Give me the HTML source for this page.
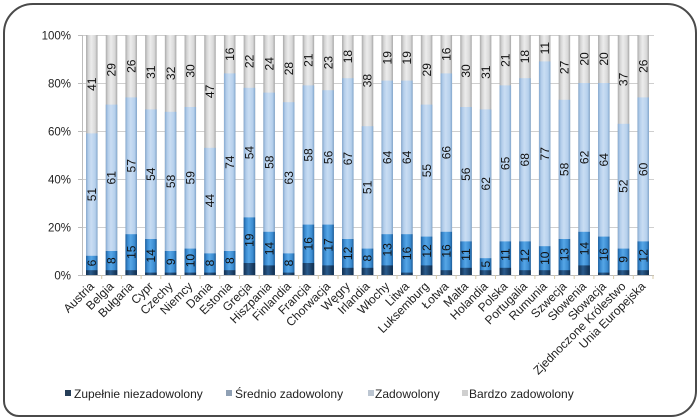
<!DOCTYPE html>
<html><head><meta charset="utf-8"><style>
html,body{margin:0;padding:0;background:#fff;}
body{width:700px;height:420px;position:relative;overflow:hidden;font-family:"Liberation Sans",Arial,sans-serif;}
.frame{position:absolute;left:3px;top:3px;width:690px;height:410px;border:2px solid #4a4a4a;border-radius:30px 30px 26px 16px;}
svg{position:absolute;left:0;top:0;}
</style></head><body>
<div class="frame"></div>
<svg width="700" height="420" viewBox="0 0 700 420" xmlns="http://www.w3.org/2000/svg" font-family="Liberation Sans, Arial, sans-serif">
<defs>
<linearGradient id="gG" x1="0" y1="0" x2="1" y2="0">
<stop offset="0" stop-color="#a9a9a9"/><stop offset="0.2" stop-color="#d4d4d4"/><stop offset="0.45" stop-color="#ececec"/><stop offset="0.8" stop-color="#d8d8d8"/><stop offset="1" stop-color="#a6a6a6"/></linearGradient>
<linearGradient id="gL" x1="0" y1="0" x2="1" y2="0">
<stop offset="0" stop-color="#86a9cf"/><stop offset="0.2" stop-color="#b3cdea"/><stop offset="0.45" stop-color="#c9ddf3"/><stop offset="0.8" stop-color="#b6d0ec"/><stop offset="1" stop-color="#82a6cc"/></linearGradient>
<linearGradient id="gM" x1="0" y1="0" x2="1" y2="0">
<stop offset="0" stop-color="#1c5f9e"/><stop offset="0.2" stop-color="#3a8ad0"/><stop offset="0.45" stop-color="#56a6e6"/><stop offset="0.8" stop-color="#3b8bd0"/><stop offset="1" stop-color="#1b5c99"/></linearGradient>
<linearGradient id="gD" x1="0" y1="0" x2="1" y2="0">
<stop offset="0" stop-color="#112f50"/><stop offset="0.4" stop-color="#2a5b8c"/><stop offset="1" stop-color="#102d4d"/></linearGradient>
</defs>
<!-- gridlines -->
<g stroke="#cfcfcf" stroke-width="1">
<line x1="82" y1="35.5" x2="654" y2="35.5"/>
<line x1="82" y1="83.5" x2="654" y2="83.5"/>
<line x1="82" y1="131.5" x2="654" y2="131.5"/>
<line x1="82" y1="179.5" x2="654" y2="179.5"/>
<line x1="82" y1="227.5" x2="654" y2="227.5"/>
</g>
<g stroke="#bdbdbd" stroke-width="1">
<line x1="82.5" y1="35" x2="82.5" y2="275"/>
<line x1="78" y1="35.5" x2="82" y2="35.5"/>
<line x1="78" y1="83.5" x2="82" y2="83.5"/>
<line x1="78" y1="131.5" x2="82" y2="131.5"/>
<line x1="78" y1="179.5" x2="82" y2="179.5"/>
<line x1="78" y1="227.5" x2="82" y2="227.5"/>
<line x1="78" y1="275.5" x2="82" y2="275.5"/>
<line x1="82" y1="275.5" x2="654" y2="275.5"/>
</g>
<g stroke="#d6c9a8" stroke-width="1">
<line x1="101.7" y1="275" x2="101.7" y2="279"/><line x1="121.4" y1="275" x2="121.4" y2="279"/><line x1="141.1" y1="275" x2="141.1" y2="279"/><line x1="160.8" y1="275" x2="160.8" y2="279"/><line x1="180.5" y1="275" x2="180.5" y2="279"/><line x1="200.1" y1="275" x2="200.1" y2="279"/><line x1="219.8" y1="275" x2="219.8" y2="279"/><line x1="239.5" y1="275" x2="239.5" y2="279"/><line x1="259.2" y1="275" x2="259.2" y2="279"/><line x1="278.9" y1="275" x2="278.9" y2="279"/><line x1="298.6" y1="275" x2="298.6" y2="279"/><line x1="318.3" y1="275" x2="318.3" y2="279"/><line x1="338" y1="275" x2="338" y2="279"/><line x1="357.7" y1="275" x2="357.7" y2="279"/><line x1="377.4" y1="275" x2="377.4" y2="279"/><line x1="397" y1="275" x2="397" y2="279"/><line x1="416.7" y1="275" x2="416.7" y2="279"/><line x1="436.4" y1="275" x2="436.4" y2="279"/><line x1="456.1" y1="275" x2="456.1" y2="279"/><line x1="475.8" y1="275" x2="475.8" y2="279"/><line x1="495.5" y1="275" x2="495.5" y2="279"/><line x1="515.2" y1="275" x2="515.2" y2="279"/><line x1="534.9" y1="275" x2="534.9" y2="279"/><line x1="554.6" y1="275" x2="554.6" y2="279"/><line x1="574.2" y1="275" x2="574.2" y2="279"/><line x1="593.9" y1="275" x2="593.9" y2="279"/><line x1="613.6" y1="275" x2="613.6" y2="279"/><line x1="633.3" y1="275" x2="633.3" y2="279"/><line x1="653" y1="275" x2="653" y2="279"/>
</g>
<!-- y labels -->
<g font-size="11.5" fill="#222" text-anchor="end">
<text x="71" y="39.5">100%</text>
<text x="71" y="87.5">80%</text>
<text x="71" y="135.5">60%</text>
<text x="71" y="183.5">40%</text>
<text x="71" y="231.5">20%</text>
<text x="71" y="279.5">0%</text>
</g>
<!-- bars -->
<g font-size="12" fill="#111" text-anchor="middle">
<g transform="translate(91.8,0)"><rect x="-5.75" y="35" width="11.5" height="240" fill="url(#gG)"/><rect x="-5.75" y="133.4" width="11.5" height="141.6" fill="url(#gL)"/><rect x="-5.75" y="255.8" width="11.5" height="19.2" fill="url(#gM)"/><rect x="-5.75" y="270.2" width="11.5" height="4.8" fill="url(#gD)"/><text transform="translate(0,263) rotate(-90)" dy="4.2">6</text><text transform="translate(0,194.6) rotate(-90)" dy="4.2">51</text><text transform="translate(0,84.2) rotate(-90)" dy="4.2">41</text></g>
<g transform="translate(111.5,0)"><rect x="-5.75" y="35" width="11.5" height="240" fill="url(#gG)"/><rect x="-5.75" y="104.6" width="11.5" height="170.4" fill="url(#gL)"/><rect x="-5.75" y="251" width="11.5" height="24" fill="url(#gM)"/><rect x="-5.75" y="270.2" width="11.5" height="4.8" fill="url(#gD)"/><text transform="translate(0,260.6) rotate(-90)" dy="4.2">8</text><text transform="translate(0,177.8) rotate(-90)" dy="4.2">61</text><text transform="translate(0,69.8) rotate(-90)" dy="4.2">29</text></g>
<g transform="translate(131.2,0)"><rect x="-5.75" y="35" width="11.5" height="240" fill="url(#gG)"/><rect x="-5.75" y="97.4" width="11.5" height="177.6" fill="url(#gL)"/><rect x="-5.75" y="234.2" width="11.5" height="40.8" fill="url(#gM)"/><rect x="-5.75" y="270.2" width="11.5" height="4.8" fill="url(#gD)"/><text transform="translate(0,252.2) rotate(-90)" dy="4.2">15</text><text transform="translate(0,165.8) rotate(-90)" dy="4.2">57</text><text transform="translate(0,66.2) rotate(-90)" dy="4.2">26</text></g>
<g transform="translate(150.9,0)"><rect x="-5.75" y="35" width="11.5" height="240" fill="url(#gG)"/><rect x="-5.75" y="109.4" width="11.5" height="165.6" fill="url(#gL)"/><rect x="-5.75" y="239" width="11.5" height="36" fill="url(#gM)"/><rect x="-5.75" y="272.6" width="11.5" height="2.4" fill="url(#gD)"/><text transform="translate(0,255.8) rotate(-90)" dy="4.2">14</text><text transform="translate(0,174.2) rotate(-90)" dy="4.2">54</text><text transform="translate(0,72.2) rotate(-90)" dy="4.2">31</text></g>
<g transform="translate(170.6,0)"><rect x="-5.75" y="35" width="11.5" height="240" fill="url(#gG)"/><rect x="-5.75" y="111.8" width="11.5" height="163.2" fill="url(#gL)"/><rect x="-5.75" y="251" width="11.5" height="24" fill="url(#gM)"/><rect x="-5.75" y="272.6" width="11.5" height="2.4" fill="url(#gD)"/><text transform="translate(0,261.8) rotate(-90)" dy="4.2">9</text><text transform="translate(0,181.4) rotate(-90)" dy="4.2">58</text><text transform="translate(0,73.4) rotate(-90)" dy="4.2">32</text></g>
<g transform="translate(190.3,0)"><rect x="-5.75" y="35" width="11.5" height="240" fill="url(#gG)"/><rect x="-5.75" y="107" width="11.5" height="168" fill="url(#gL)"/><rect x="-5.75" y="248.6" width="11.5" height="26.4" fill="url(#gM)"/><rect x="-5.75" y="272.6" width="11.5" height="2.4" fill="url(#gD)"/><text transform="translate(0,260.6) rotate(-90)" dy="4.2">10</text><text transform="translate(0,177.8) rotate(-90)" dy="4.2">59</text><text transform="translate(0,71) rotate(-90)" dy="4.2">30</text></g>
<g transform="translate(210,0)"><rect x="-5.75" y="35" width="11.5" height="240" fill="url(#gG)"/><rect x="-5.75" y="147.8" width="11.5" height="127.2" fill="url(#gL)"/><rect x="-5.75" y="253.4" width="11.5" height="21.6" fill="url(#gM)"/><rect x="-5.75" y="272.6" width="11.5" height="2.4" fill="url(#gD)"/><text transform="translate(0,263) rotate(-90)" dy="4.2">8</text><text transform="translate(0,200.6) rotate(-90)" dy="4.2">44</text><text transform="translate(0,91.4) rotate(-90)" dy="4.2">47</text></g>
<g transform="translate(229.7,0)"><rect x="-5.75" y="35" width="11.5" height="240" fill="url(#gG)"/><rect x="-5.75" y="73.4" width="11.5" height="201.6" fill="url(#gL)"/><rect x="-5.75" y="251" width="11.5" height="24" fill="url(#gM)"/><rect x="-5.75" y="270.2" width="11.5" height="4.8" fill="url(#gD)"/><text transform="translate(0,260.6) rotate(-90)" dy="4.2">8</text><text transform="translate(0,162.2) rotate(-90)" dy="4.2">74</text><text transform="translate(0,54.2) rotate(-90)" dy="4.2">16</text></g>
<g transform="translate(249.4,0)"><rect x="-5.75" y="35" width="11.5" height="240" fill="url(#gG)"/><rect x="-5.75" y="87.8" width="11.5" height="187.2" fill="url(#gL)"/><rect x="-5.75" y="217.4" width="11.5" height="57.6" fill="url(#gM)"/><rect x="-5.75" y="263" width="11.5" height="12" fill="url(#gD)"/><text transform="translate(0,240.2) rotate(-90)" dy="4.2">19</text><text transform="translate(0,152.6) rotate(-90)" dy="4.2">54</text><text transform="translate(0,61.4) rotate(-90)" dy="4.2">22</text></g>
<g transform="translate(269.1,0)"><rect x="-5.75" y="35" width="11.5" height="240" fill="url(#gG)"/><rect x="-5.75" y="92.6" width="11.5" height="182.4" fill="url(#gL)"/><rect x="-5.75" y="231.8" width="11.5" height="43.2" fill="url(#gM)"/><rect x="-5.75" y="265.4" width="11.5" height="9.6" fill="url(#gD)"/><text transform="translate(0,248.6) rotate(-90)" dy="4.2">14</text><text transform="translate(0,162.2) rotate(-90)" dy="4.2">58</text><text transform="translate(0,63.8) rotate(-90)" dy="4.2">24</text></g>
<g transform="translate(288.7,0)"><rect x="-5.75" y="35" width="11.5" height="240" fill="url(#gG)"/><rect x="-5.75" y="102.2" width="11.5" height="172.8" fill="url(#gL)"/><rect x="-5.75" y="253.4" width="11.5" height="21.6" fill="url(#gM)"/><rect x="-5.75" y="272.6" width="11.5" height="2.4" fill="url(#gD)"/><text transform="translate(0,263) rotate(-90)" dy="4.2">8</text><text transform="translate(0,177.8) rotate(-90)" dy="4.2">63</text><text transform="translate(0,68.6) rotate(-90)" dy="4.2">28</text></g>
<g transform="translate(308.4,0)"><rect x="-5.75" y="35" width="11.5" height="240" fill="url(#gG)"/><rect x="-5.75" y="85.4" width="11.5" height="189.6" fill="url(#gL)"/><rect x="-5.75" y="224.6" width="11.5" height="50.4" fill="url(#gM)"/><rect x="-5.75" y="263" width="11.5" height="12" fill="url(#gD)"/><text transform="translate(0,243.8) rotate(-90)" dy="4.2">16</text><text transform="translate(0,155) rotate(-90)" dy="4.2">58</text><text transform="translate(0,60.2) rotate(-90)" dy="4.2">21</text></g>
<g transform="translate(328.1,0)"><rect x="-5.75" y="35" width="11.5" height="240" fill="url(#gG)"/><rect x="-5.75" y="90.2" width="11.5" height="184.8" fill="url(#gL)"/><rect x="-5.75" y="224.6" width="11.5" height="50.4" fill="url(#gM)"/><rect x="-5.75" y="265.4" width="11.5" height="9.6" fill="url(#gD)"/><text transform="translate(0,245) rotate(-90)" dy="4.2">17</text><text transform="translate(0,157.4) rotate(-90)" dy="4.2">56</text><text transform="translate(0,62.6) rotate(-90)" dy="4.2">23</text></g>
<g transform="translate(347.8,0)"><rect x="-5.75" y="35" width="11.5" height="240" fill="url(#gG)"/><rect x="-5.75" y="78.2" width="11.5" height="196.8" fill="url(#gL)"/><rect x="-5.75" y="239" width="11.5" height="36" fill="url(#gM)"/><rect x="-5.75" y="267.8" width="11.5" height="7.2" fill="url(#gD)"/><text transform="translate(0,253.4) rotate(-90)" dy="4.2">12</text><text transform="translate(0,158.6) rotate(-90)" dy="4.2">67</text><text transform="translate(0,56.6) rotate(-90)" dy="4.2">18</text></g>
<g transform="translate(367.5,0)"><rect x="-5.75" y="35" width="11.5" height="240" fill="url(#gG)"/><rect x="-5.75" y="126.2" width="11.5" height="148.8" fill="url(#gL)"/><rect x="-5.75" y="248.6" width="11.5" height="26.4" fill="url(#gM)"/><rect x="-5.75" y="267.8" width="11.5" height="7.2" fill="url(#gD)"/><text transform="translate(0,258.2) rotate(-90)" dy="4.2">8</text><text transform="translate(0,187.4) rotate(-90)" dy="4.2">51</text><text transform="translate(0,80.6) rotate(-90)" dy="4.2">38</text></g>
<g transform="translate(387.2,0)"><rect x="-5.75" y="35" width="11.5" height="240" fill="url(#gG)"/><rect x="-5.75" y="80.6" width="11.5" height="194.4" fill="url(#gL)"/><rect x="-5.75" y="234.2" width="11.5" height="40.8" fill="url(#gM)"/><rect x="-5.75" y="265.4" width="11.5" height="9.6" fill="url(#gD)"/><text transform="translate(0,249.8) rotate(-90)" dy="4.2">13</text><text transform="translate(0,157.4) rotate(-90)" dy="4.2">64</text><text transform="translate(0,57.8) rotate(-90)" dy="4.2">19</text></g>
<g transform="translate(406.9,0)"><rect x="-5.75" y="35" width="11.5" height="240" fill="url(#gG)"/><rect x="-5.75" y="80.6" width="11.5" height="194.4" fill="url(#gL)"/><rect x="-5.75" y="234.2" width="11.5" height="40.8" fill="url(#gM)"/><rect x="-5.75" y="272.6" width="11.5" height="2.4" fill="url(#gD)"/><text transform="translate(0,253.4) rotate(-90)" dy="4.2">16</text><text transform="translate(0,157.4) rotate(-90)" dy="4.2">64</text><text transform="translate(0,57.8) rotate(-90)" dy="4.2">19</text></g>
<g transform="translate(426.6,0)"><rect x="-5.75" y="35" width="11.5" height="240" fill="url(#gG)"/><rect x="-5.75" y="104.6" width="11.5" height="170.4" fill="url(#gL)"/><rect x="-5.75" y="236.6" width="11.5" height="38.4" fill="url(#gM)"/><rect x="-5.75" y="265.4" width="11.5" height="9.6" fill="url(#gD)"/><text transform="translate(0,251) rotate(-90)" dy="4.2">12</text><text transform="translate(0,170.6) rotate(-90)" dy="4.2">55</text><text transform="translate(0,69.8) rotate(-90)" dy="4.2">29</text></g>
<g transform="translate(446.3,0)"><rect x="-5.75" y="35" width="11.5" height="240" fill="url(#gG)"/><rect x="-5.75" y="73.4" width="11.5" height="201.6" fill="url(#gL)"/><rect x="-5.75" y="231.8" width="11.5" height="43.2" fill="url(#gM)"/><rect x="-5.75" y="270.2" width="11.5" height="4.8" fill="url(#gD)"/><text transform="translate(0,251) rotate(-90)" dy="4.2">16</text><text transform="translate(0,152.6) rotate(-90)" dy="4.2">66</text><text transform="translate(0,54.2) rotate(-90)" dy="4.2">16</text></g>
<g transform="translate(466,0)"><rect x="-5.75" y="35" width="11.5" height="240" fill="url(#gG)"/><rect x="-5.75" y="107" width="11.5" height="168" fill="url(#gL)"/><rect x="-5.75" y="241.4" width="11.5" height="33.6" fill="url(#gM)"/><rect x="-5.75" y="267.8" width="11.5" height="7.2" fill="url(#gD)"/><text transform="translate(0,254.6) rotate(-90)" dy="4.2">11</text><text transform="translate(0,174.2) rotate(-90)" dy="4.2">56</text><text transform="translate(0,71) rotate(-90)" dy="4.2">30</text></g>
<g transform="translate(485.6,0)"><rect x="-5.75" y="35" width="11.5" height="240" fill="url(#gG)"/><rect x="-5.75" y="109.4" width="11.5" height="165.6" fill="url(#gL)"/><rect x="-5.75" y="258.2" width="11.5" height="16.8" fill="url(#gM)"/><rect x="-5.75" y="270.2" width="11.5" height="4.8" fill="url(#gD)"/><text transform="translate(0,264.2) rotate(-90)" dy="4.2">5</text><text transform="translate(0,183.8) rotate(-90)" dy="4.2">62</text><text transform="translate(0,72.2) rotate(-90)" dy="4.2">31</text></g>
<g transform="translate(505.3,0)"><rect x="-5.75" y="35" width="11.5" height="240" fill="url(#gG)"/><rect x="-5.75" y="85.4" width="11.5" height="189.6" fill="url(#gL)"/><rect x="-5.75" y="241.4" width="11.5" height="33.6" fill="url(#gM)"/><rect x="-5.75" y="267.8" width="11.5" height="7.2" fill="url(#gD)"/><text transform="translate(0,254.6) rotate(-90)" dy="4.2">11</text><text transform="translate(0,163.4) rotate(-90)" dy="4.2">65</text><text transform="translate(0,60.2) rotate(-90)" dy="4.2">21</text></g>
<g transform="translate(525,0)"><rect x="-5.75" y="35" width="11.5" height="240" fill="url(#gG)"/><rect x="-5.75" y="78.2" width="11.5" height="196.8" fill="url(#gL)"/><rect x="-5.75" y="241.4" width="11.5" height="33.6" fill="url(#gM)"/><rect x="-5.75" y="270.2" width="11.5" height="4.8" fill="url(#gD)"/><text transform="translate(0,255.8) rotate(-90)" dy="4.2">12</text><text transform="translate(0,159.8) rotate(-90)" dy="4.2">68</text><text transform="translate(0,56.6) rotate(-90)" dy="4.2">18</text></g>
<g transform="translate(544.7,0)"><rect x="-5.75" y="35" width="11.5" height="240" fill="url(#gG)"/><rect x="-5.75" y="61.4" width="11.5" height="213.6" fill="url(#gL)"/><rect x="-5.75" y="246.2" width="11.5" height="28.8" fill="url(#gM)"/><rect x="-5.75" y="270.2" width="11.5" height="4.8" fill="url(#gD)"/><text transform="translate(0,258.2) rotate(-90)" dy="4.2">10</text><text transform="translate(0,153.8) rotate(-90)" dy="4.2">77</text><text transform="translate(0,48.2) rotate(-90)" dy="4.2">11</text></g>
<g transform="translate(564.4,0)"><rect x="-5.75" y="35" width="11.5" height="240" fill="url(#gG)"/><rect x="-5.75" y="99.8" width="11.5" height="175.2" fill="url(#gL)"/><rect x="-5.75" y="239" width="11.5" height="36" fill="url(#gM)"/><rect x="-5.75" y="270.2" width="11.5" height="4.8" fill="url(#gD)"/><text transform="translate(0,254.6) rotate(-90)" dy="4.2">13</text><text transform="translate(0,169.4) rotate(-90)" dy="4.2">58</text><text transform="translate(0,67.4) rotate(-90)" dy="4.2">27</text></g>
<g transform="translate(584.1,0)"><rect x="-5.75" y="35" width="11.5" height="240" fill="url(#gG)"/><rect x="-5.75" y="83" width="11.5" height="192" fill="url(#gL)"/><rect x="-5.75" y="231.8" width="11.5" height="43.2" fill="url(#gM)"/><rect x="-5.75" y="265.4" width="11.5" height="9.6" fill="url(#gD)"/><text transform="translate(0,248.6) rotate(-90)" dy="4.2">14</text><text transform="translate(0,157.4) rotate(-90)" dy="4.2">62</text><text transform="translate(0,59) rotate(-90)" dy="4.2">20</text></g>
<g transform="translate(603.8,0)"><rect x="-5.75" y="35" width="11.5" height="240" fill="url(#gG)"/><rect x="-5.75" y="83" width="11.5" height="192" fill="url(#gL)"/><rect x="-5.75" y="236.6" width="11.5" height="38.4" fill="url(#gM)"/><rect x="-5.75" y="272.6" width="11.5" height="2.4" fill="url(#gD)"/><text transform="translate(0,254.6) rotate(-90)" dy="4.2">16</text><text transform="translate(0,159.8) rotate(-90)" dy="4.2">64</text><text transform="translate(0,59) rotate(-90)" dy="4.2">20</text></g>
<g transform="translate(623.5,0)"><rect x="-5.75" y="35" width="11.5" height="240" fill="url(#gG)"/><rect x="-5.75" y="123.8" width="11.5" height="151.2" fill="url(#gL)"/><rect x="-5.75" y="248.6" width="11.5" height="26.4" fill="url(#gM)"/><rect x="-5.75" y="270.2" width="11.5" height="4.8" fill="url(#gD)"/><text transform="translate(0,259.4) rotate(-90)" dy="4.2">9</text><text transform="translate(0,186.2) rotate(-90)" dy="4.2">52</text><text transform="translate(0,79.4) rotate(-90)" dy="4.2">37</text></g>
<g transform="translate(643.2,0)"><rect x="-5.75" y="35" width="11.5" height="240" fill="url(#gG)"/><rect x="-5.75" y="97.4" width="11.5" height="177.6" fill="url(#gL)"/><rect x="-5.75" y="241.4" width="11.5" height="33.6" fill="url(#gM)"/><rect x="-5.75" y="270.2" width="11.5" height="4.8" fill="url(#gD)"/><text transform="translate(0,255.8) rotate(-90)" dy="4.2">12</text><text transform="translate(0,169.4) rotate(-90)" dy="4.2">60</text><text transform="translate(0,66.2) rotate(-90)" dy="4.2">26</text></g>
</g>
<!-- category labels -->
<g font-size="12" fill="#222" text-anchor="end">
<text transform="translate(94.8,287) rotate(-45)">Austria</text>
<text transform="translate(114.5,287) rotate(-45)">Belgia</text>
<text transform="translate(134.2,287) rotate(-45)">Bułgaria</text>
<text transform="translate(153.9,287) rotate(-45)">Cypr</text>
<text transform="translate(173.6,287) rotate(-45)">Czechy</text>
<text transform="translate(193.3,287) rotate(-45)">Niemcy</text>
<text transform="translate(213,287) rotate(-45)">Dania</text>
<text transform="translate(232.7,287) rotate(-45)">Estonia</text>
<text transform="translate(252.4,287) rotate(-45)">Grecja</text>
<text transform="translate(272.1,287) rotate(-45)">Hiszpania</text>
<text transform="translate(291.7,287) rotate(-45)">Finlandia</text>
<text transform="translate(311.4,287) rotate(-45)">Francja</text>
<text transform="translate(331.1,287) rotate(-45)">Chorwacja</text>
<text transform="translate(350.8,287) rotate(-45)">Węgry</text>
<text transform="translate(370.5,287) rotate(-45)">Irlandia</text>
<text transform="translate(390.2,287) rotate(-45)">Włochy</text>
<text transform="translate(409.9,287) rotate(-45)">Litwa</text>
<text transform="translate(429.6,287) rotate(-45)">Luksemburg</text>
<text transform="translate(449.3,287) rotate(-45)">Łotwa</text>
<text transform="translate(469,287) rotate(-45)">Malta</text>
<text transform="translate(488.6,287) rotate(-45)">Holandia</text>
<text transform="translate(508.3,287) rotate(-45)">Polska</text>
<text transform="translate(528,287) rotate(-45)">Portugalia</text>
<text transform="translate(547.7,287) rotate(-45)">Rumunia</text>
<text transform="translate(567.4,287) rotate(-45)">Szwecja</text>
<text transform="translate(587.1,287) rotate(-45)">Słowenia</text>
<text transform="translate(606.8,287) rotate(-45)">Słowacja</text>
<text transform="translate(626.5,287) rotate(-45)">Zjednoczone Królestwo</text>
<text transform="translate(646.2,287) rotate(-45)">Unia Europejska</text>
</g>
<!-- legend -->
<g font-size="12" fill="#222">
<rect x="65" y="390" width="6" height="6" fill="#263e58"/>
<text x="74" y="398">Zupełnie niezadowolony</text>
<rect x="226" y="390" width="6" height="6" fill="#8fa0b4"/>
<text x="235" y="398">Średnio zadowolony</text>
<rect x="368" y="390" width="6" height="6" fill="#bcc6d2"/>
<text x="375" y="398">Zadowolony</text>
<rect x="462" y="390" width="6" height="6" fill="#cfcfcf"/>
<text x="469" y="398">Bardzo zadowolony</text>
</g>
</svg>
</body></html>
